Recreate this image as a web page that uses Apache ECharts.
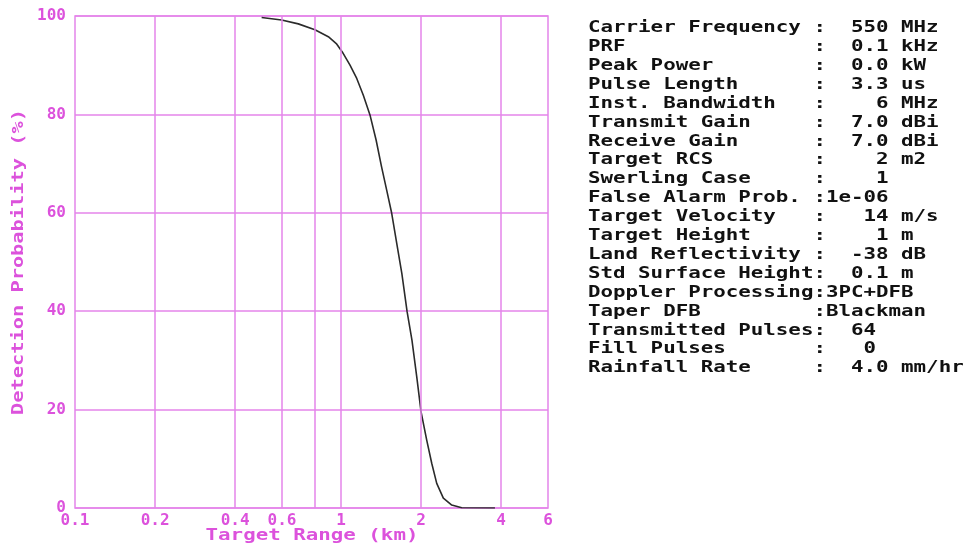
<!DOCTYPE html>
<html>
<head>
<meta charset="utf-8">
<script src="https://cdn.jsdelivr.net/npm/echarts@6/dist/echarts.min.js"></script>
<style>
  html, body { margin: 0; padding: 0; background: #ffffff; }
  #chart { width: 968px; height: 547px; }
</style>
</head>
<body>
<div id="chart"></div>
<script>
// Detection probability versus target range
const rangeKm = [0.503, 0.598, 0.691, 0.798, 0.896, 0.960, 1.011, 1.081, 1.146, 1.213, 1.285,
                 1.355, 1.420, 1.485, 1.551, 1.620, 1.693, 1.772, 1.848, 1.926, 1.999,
                 2.100, 2.193, 2.290, 2.425, 2.608, 2.843, 3.79];
const detectionPct = [99.7, 99.2, 98.4, 97.2, 95.8, 94.4, 92.7, 90.0, 87.3, 83.9, 79.9,
                      74.8, 69.4, 64.6, 59.9, 53.8, 47.7, 39.9, 34.1, 26.7, 19.6,
                      13.8, 9.1, 5.0, 2.0, 0.6, 0.05, 0.0];

// Range axis ticks (log scale) and which of them carry labels
const rangeTicks = [0.1, 0.2, 0.4, 0.6, 0.8, 1, 2, 4, 6];
const rangeLabels = [0.1, 0.2, 0.4, 0.6, 1, 2, 4, 6];

// Radar parameter table
const paramNames = [
  'Carrier Frequency ', 'PRF', 'Peak Power', 'Pulse Length', 'Inst. Bandwidth',
  'Transmit Gain', 'Receive Gain', 'Target RCS', 'Swerling Case', 'False Alarm Prob. ',
  'Target Velocity', 'Target Height', 'Land Reflectivity ', 'Std Surface Height',
  'Doppler Processing', 'Taper DFB', 'Transmitted Pulses', 'Fill Pulses', 'Rainfall Rate'
];
const paramValues = [
  '  550 MHz', '  0.1 kHz', '  0.0 kW', '  3.3 us', '    6 MHz',
  '  7.0 dBi', '  7.0 dBi', '    2 m2', '    1', '1e-06',
  '   14 m/s', '    1 m', '  -38 dB', '  0.1 m',
  '3PC+DFB', 'Blackman', '  64', '   0', '  4.0 mm/hr'
];

const MAGENTA_TEXT = '#dc52dc';
const MAGENTA_GRID = '#e485ea';
const MONO = '"DejaVu Sans Mono", "Liberation Mono", monospace';

const tableText = paramNames.map((n, i) => n.padEnd(18, ' ') + ':' + paramValues[i]).join('\n');

const chart = echarts.init(document.getElementById('chart'), null, { renderer: 'canvas' });

chart.setOption({
  backgroundColor: '#ffffff',
  animation: false,
  grid: {
    left: 75, right: 420, top: 16, bottom: 39,
    show: true, borderColor: MAGENTA_GRID, borderWidth: 1.5, backgroundColor: 'transparent'
  },
  xAxis: {
    type: 'log',
    logBase: 10,
    min: 0.1,
    max: 6,
    axisLine: { show: false },
    axisTick: { show: false, customValues: rangeTicks },
    splitLine: { show: false },
    axisLabel: {
      customValues: rangeLabels,
      color: MAGENTA_TEXT,
      fontFamily: MONO,
      fontWeight: 'bold',
      fontSize: 16,
      margin: 5,
      formatter: v => String(v)
    }
  },
  yAxis: {
    type: 'value',
    min: 0,
    max: 100,
    interval: 20,
    axisLine: { show: false },
    axisTick: { show: false },
    splitLine: { show: true, lineStyle: { color: MAGENTA_GRID, width: 1.5 } },
    axisLabel: {
      color: MAGENTA_TEXT,
      fontFamily: MONO,
      fontWeight: 'bold',
      fontSize: 16,
      margin: 9
    }
  },
  series: [
    {
      type: 'line',
      data: rangeKm.map((r, i) => [r, detectionPct[i]]),
      smooth: false,
      showSymbol: false,
      lineStyle: { color: '#2b2b2b', width: 1.6, join: 'round' },
      markLine: {
        silent: true,
        symbol: 'none',
        label: { show: false },
        lineStyle: { color: MAGENTA_GRID, width: 1.5, type: 'solid' },
        data: rangeTicks.slice(1, -1).map(v => ({ xAxis: v }))
      },
      z: 3
    }
  ],
  graphic: [
    {
      type: 'text',
      x: 588,
      y: 18.5,
      scaleX: 1.3,
      style: {
        text: tableText,
        font: 'bold 16px ' + MONO,
        fill: '#111111',
        lineHeight: 18.9,
        textVerticalAlign: 'top'
      }
    },
    {
      type: 'text',
      x: 312,
      y: 536,
      scaleX: 1.3,
      style: {
        text: 'Target Range (km)',
        font: 'bold 16px ' + MONO,
        fill: MAGENTA_TEXT,
        textAlign: 'center',
        textVerticalAlign: 'middle'
      }
    },
    {
      type: 'text',
      x: 19,
      y: 262,
      rotation: Math.PI / 2,
      scaleX: 1.27,
      style: {
        text: 'Detection Probability (%)',
        font: 'bold 16px ' + MONO,
        fill: MAGENTA_TEXT,
        textAlign: 'center',
        textVerticalAlign: 'middle'
      }
    }
  ]
});
</script>
</body>
</html>
